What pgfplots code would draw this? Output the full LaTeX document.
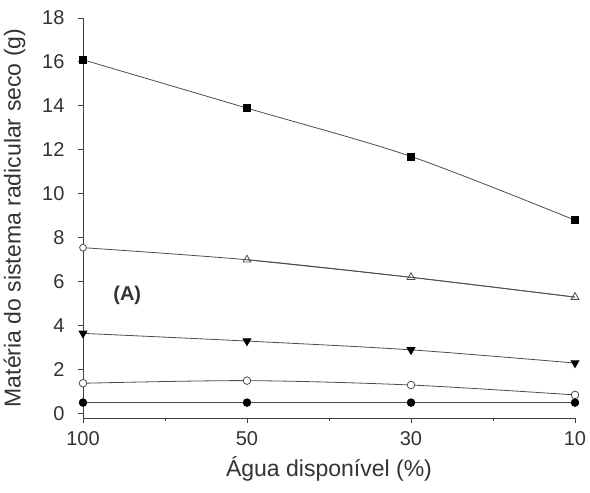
\documentclass[border=0pt]{standalone}
\usepackage{pgfplots}
\pgfplotsset{compat=1.18}
\usepackage{fontspec}
\setmainfont{Liberation Sans}
\begin{document}
\begin{tikzpicture}
\begin{axis}[
  scale only axis,
  width=492pt, height=400pt,
  axis lines*=left,
  xmin=0, xmax=3, ymin=-0.2, ymax=18,
  xtick={0,1,2,3}, xticklabels={100,50,30,10},
  minor xtick={0.5,1.5,2.5},
  ytick={0,2,...,18},
  tick align=outside,
  tick pos=left,
  major tick length=5pt, minor tick length=3pt,
  /pgf/number format/assume math mode=true,
  ticklabel style={font=\fontsize{20}{20}\selectfont, text=black!80},
  yticklabel style={xshift=-10pt},
  xticklabel style={yshift=-5pt},
  label style={font=\fontsize{23}{23}\selectfont, text=black!80},
  xlabel={Água disponível (\%)},
  ylabel={Matéria do sistema radicular seco (g)},
  ylabel style={yshift=10pt},
  xlabel style={yshift=-4pt},
  axis line style={black!75, line width=0.9pt},
  every tick/.style={black!75, line width=0.9pt},
  clip=false,
]
\addplot[black!70, line width=0.8pt, smooth, mark=square*, mark size=3.5pt, mark options={fill=black, draw=black}] coordinates {(0,16.1) (1,13.9) (2,11.7) (3,8.8)};
\addplot[black!70, line width=0.8pt, smooth, mark=triangle, mark size=4.5pt, mark options={fill=white, draw=black!70}] coordinates {(1,7.0) (2,6.2) (3,5.3)};
\addplot[black!70, line width=0.8pt, smooth, mark=none] coordinates {(0,7.55) (1,7.0) (2,6.2) (3,5.3)};
\addplot[black!70, line width=0.8pt, only marks, mark=*, mark size=3.4pt, mark options={fill=white, draw=black!70}] coordinates {(0,7.55)};
\addplot[black!70, line width=0.8pt, smooth, mark=triangle*, mark size=4.5pt, mark options={fill=black, draw=black, rotate=180}] coordinates {(0,3.65) (1,3.3) (2,2.9) (3,2.3)};
\addplot[black!70, line width=0.8pt, smooth, mark=*, mark size=3.8pt, mark options={fill=white, draw=black!70}] coordinates {(0,1.38) (1,1.5) (2,1.3) (3,0.85)};
\addplot[black!70, line width=0.8pt, smooth, mark=*, mark size=3.8pt, mark options={fill=black, draw=black}] coordinates {(0,0.5) (1,0.5) (2,0.5) (3,0.5)};
\node[font=\fontsize{20}{20}\selectfont\bfseries, text=black!80] at (axis cs:0.27,5.4) {(A)};
\path (rel axis cs:0,1) ++(-83pt,18pt);
\path (rel axis cs:1,0) ++(15pt,-75pt);
\end{axis}
\end{tikzpicture}
\end{document}
